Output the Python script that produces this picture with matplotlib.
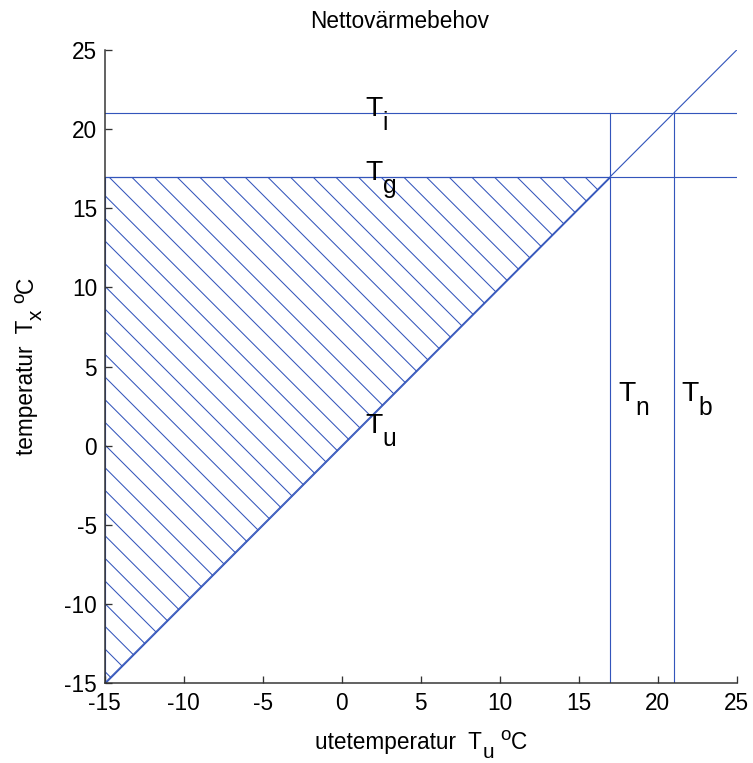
import matplotlib
matplotlib.use("Agg")
import matplotlib.pyplot as plt
import matplotlib.transforms as mtransforms

# temperatures (deg C)
t_min, t_max = -15, 25
t_g = 17   # gransttemperatur
t_i = 21   # inomhustemperatur
t_n = 17
t_b = 21
ticks = list(range(-15, 30, 5))

# label subscripts and positions (data coords)
labels = [
    ("i", 1.5, 21),
    ("g", 1.5, 17),
    ("u", 1.5, 1),
    ("n", 17.5, 3),
    ("b", 21.5, 3),
]

blue = "#3355bb"
dpi = 136

plt.rcParams["font.family"] = ["Liberation Sans", "DejaVu Sans"]
plt.rcParams["axes.unicode_minus"] = False
plt.rcParams["hatch.linewidth"] = 0.55

fig = plt.figure(figsize=(753 / dpi, 763 / dpi), dpi=dpi)
ax = fig.add_axes([104.7 / 753, 80 / 763, 632 / 753, 633 / 763])
renderer = fig.canvas.get_renderer()


def advance(s, size):
    # width of a string incl. spaces (measured with a sentinel char)
    t = fig.text(0, 0, s + "|", fontsize=size)
    t2 = fig.text(0, 0, "|", fontsize=size)
    w = t.get_window_extent(renderer).width - t2.get_window_extent(renderer).width
    t.remove()
    t2.remove()
    return w


def tex_text(host, x, y, trans, pieces, ha="left", rotation=0, base_dy=0):
    # pieces: (string, fontsize, vertical shift in points)
    widths = [advance(s, size) for s, size, dy in pieces]
    pos = -sum(widths) / 2 if ha == "center" else 0
    for (s, size, dy), w in zip(pieces, widths):
        d = (dy + base_dy) * dpi / 72
        if rotation == 90:
            ox, oy = -d, pos
        else:
            ox, oy = pos, d
        tr = mtransforms.offset_copy(trans, fig=fig, x=ox, y=oy, units="dots")
        host.text(x, y, s, fontsize=size, transform=tr, rotation=rotation,
                  ha="left", va="baseline", rotation_mode="anchor")
        pos += w


# hatched region: between diagonal and T_g, left of T_g
ax.fill([t_min, t_min, t_g], [t_min, t_g, t_g], facecolor="none",
        edgecolor=blue, hatch="\\\\", linewidth=0.6)

ax.plot([t_min, t_max], [t_min, t_max], color=blue, lw=0.6)
ax.plot([t_min, t_max], [t_i, t_i], color=blue, lw=0.6)
ax.plot([t_min, t_max], [t_g, t_g], color=blue, lw=0.6)
ax.plot([t_n, t_n], [t_min, t_i], color=blue, lw=0.6)
ax.plot([t_b, t_b], [t_min, t_i], color=blue, lw=0.6)

for sub, x, y in labels:
    tex_text(ax, x, y, ax.transData, [("T", 15, 0), (sub, 13, -7.2)], base_dy=-1.6)

ax.set_xlim(t_min, t_max)
ax.set_ylim(t_min, t_max)
ax.set_xticks(ticks)
ax.set_yticks(ticks)
ax.tick_params(direction="in", length=3.5, width=0.7, labelsize=12, color="#333333")
ax.tick_params(axis="x", pad=5)
ax.tick_params(axis="y", pad=4)
ax.spines["top"].set_visible(False)
ax.spines["right"].set_visible(False)
for s in ["left", "bottom"]:
    ax.spines[s].set_color("#333333")
    ax.spines[s].set_linewidth(0.8)

fig.text(310 / 753, 1 - 28.3 / 763, "Nettovärmebehov", fontsize=12,
         ha="left", va="baseline")
tex_text(fig, 421 / 753, 1 - 749 / 763, fig.transFigure,
         [("utetemperatur  T", 12, 0), ("u", 11, -4.6), (" ", 12, 0),
          ("o", 10, 4.8), ("C", 12, 0)], ha="center")
tex_text(fig, 33 / 753, 1 - 366 / 763, fig.transFigure,
         [("temperatur  T", 12, 0), ("x", 11, -4.6), (" ", 12, 0),
          ("o", 10, 4.8), ("C", 12, 0)], ha="center", rotation=90)

fig.savefig("out.png", dpi=dpi)
